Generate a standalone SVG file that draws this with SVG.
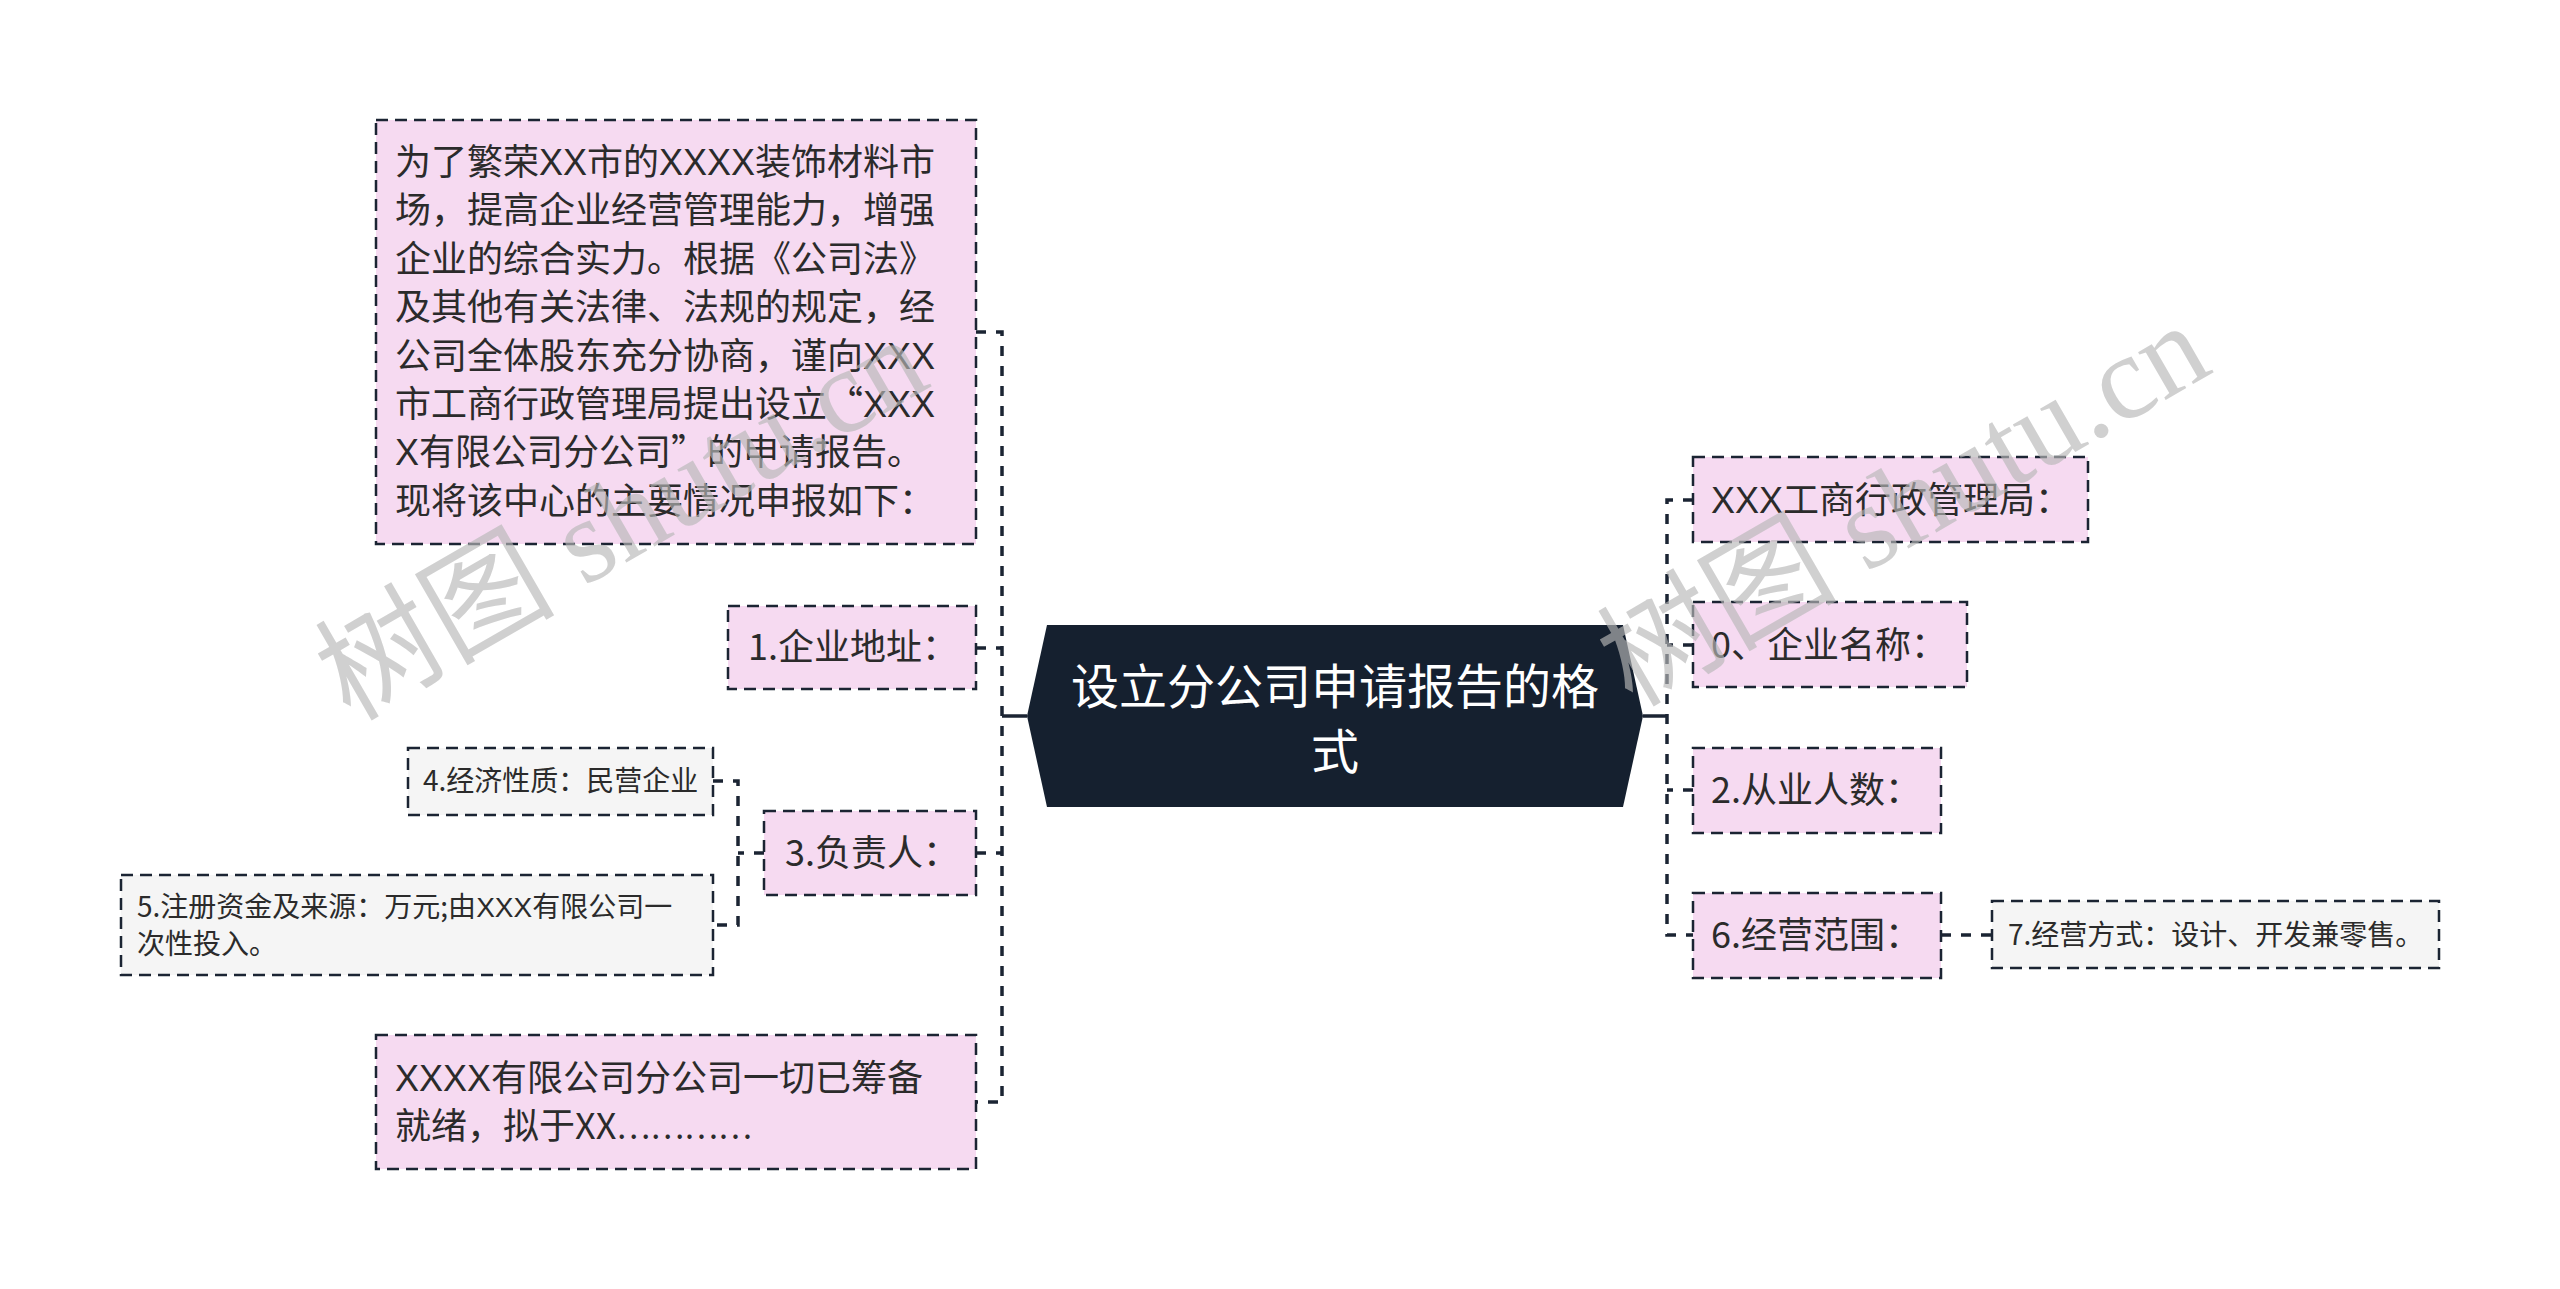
<svg xmlns="http://www.w3.org/2000/svg" width="2560" height="1289" viewBox="0 0 2560 1289">
<style>
.box{stroke:#1b2433;stroke-width:2.5;stroke-dasharray:12 7}
.pink{fill:#f6daf1}
.gray{fill:#f5f5f5}
.t{font-family:"Noto Sans CJK SC","Noto Sans",sans-serif;fill:#2b2b2b}
.lat{font-family:"Liberation Sans","Noto Sans CJK SC",sans-serif}
.t36{font-size:36px}
.t28{font-size:28px}
.conn{fill:none;stroke:#1b2433;stroke-width:3.5;stroke-dasharray:10 10}
.solid{fill:none;stroke:#1b2433;stroke-width:3.5}
.wm{font-family:"Liberation Serif","Noto Sans CJK SC",serif;font-size:120px;fill:#b8b8b8;opacity:0.65}
</style>
<rect width="2560" height="1289" fill="#ffffff"/>
<g id="connectors">
<path class="solid" d="M1027,716 H1002"/>
<path class="conn" d="M976,332 H1002 V1102 H976"/>
<path class="conn" d="M976,648 H1002"/>
<path class="conn" d="M976,853 H1002"/>
<path class="conn" d="M764,853 H738"/>
<path class="conn" d="M713,781 H738 V925 H713"/>
<path class="solid" d="M1643,716 H1667"/>
<path class="conn" d="M1693,500 H1667 V935 H1693"/>
<path class="conn" d="M1693,645 H1667"/>
<path class="conn" d="M1693,790 H1667"/>
<path class="conn" d="M1941,935 H1992"/>
</g>
<g id="center">
<polygon points="1027,716 1047,625 1623,625 1643,716 1623,807 1047,807" fill="#15202f"/>
<text class="t" x="1335" y="704" font-size="48" text-anchor="middle" style="fill:#ffffff">设立分公司申请报告的格</text>
<text class="t" x="1335" y="769" font-size="48" text-anchor="middle" style="fill:#ffffff">式</text>
</g>
<g id="node-intro">
<rect class="box pink" x="376" y="120" width="600" height="424"/>
<text class="t t36" x="395"><tspan x="395" y="175">为了繁荣<tspan class="lat">XX</tspan>市的<tspan class="lat">XXXX</tspan>装饰材料市</tspan><tspan x="395" y="223.4">场，提高企业经营管理能力，增强</tspan><tspan x="395" y="271.8">企业的综合实力。根据《公司法》</tspan><tspan x="395" y="320.2">及其他有关法律、法规的规定，经</tspan><tspan x="395" y="368.6">公司全体股东充分协商，谨向<tspan class="lat">XXX</tspan></tspan><tspan x="395" y="417">市工商行政管理局提出设立“<tspan class="lat">XXX</tspan></tspan><tspan x="395" y="465.4"><tspan class="lat">X</tspan>有限公司分公司”的申请报告。</tspan><tspan x="395" y="513.8">现将该中心的主要情况申报如下：</tspan></text>
</g>
<g id="node-address">
<rect class="box pink" x="728" y="606" width="248" height="83"/>
<text class="t t36" x="748" y="660">1.企业地址：</text>
</g>
<g id="node-person">
<rect class="box pink" x="764" y="811" width="212" height="84"/>
<text class="t t36" x="785" y="866">3.负责人：</text>
</g>
<g id="node-nature">
<rect class="box gray" x="408" y="748" width="305" height="67"/>
<text class="t t28" x="423" y="791">4.经济性质：民营企业</text>
</g>
<g id="node-capital">
<rect class="box gray" x="121" y="875" width="592" height="100"/>
<text class="t t28"><tspan x="137" y="917">5.注册资金及来源：万元;由<tspan class="lat">XXX</tspan>有限公司一</tspan><tspan x="137" y="954">次性投入。</tspan></text>
</g>
<g id="node-ready">
<rect class="box pink" x="376" y="1035" width="600" height="134"/>
<text class="t t36"><tspan x="395" y="1091"><tspan class="lat">XXXX</tspan>有限公司分公司一切已筹备</tspan><tspan x="395" y="1139">就绪，拟于XX<tspan font-size="32">…………</tspan></tspan></text>
</g>
<g id="node-bureau">
<rect class="box pink" x="1693" y="457" width="395" height="85"/>
<text class="t t36" x="1711" y="513"><tspan class="lat">XXX</tspan>工商行政管理局：</text>
</g>
<g id="node-name">
<rect class="box pink" x="1693" y="602" width="274" height="85"/>
<text class="t t36" x="1711" y="658">0、企业名称：</text>
</g>
<g id="node-staff">
<rect class="box pink" x="1693" y="748" width="248" height="85"/>
<text class="t t36" x="1711" y="803">2.从业人数：</text>
</g>
<g id="node-scope">
<rect class="box pink" x="1693" y="893" width="248" height="85"/>
<text class="t t36" x="1711" y="948">6.经营范围：</text>
</g>
<g id="node-mode">
<rect class="box gray" x="1992" y="901" width="447" height="67"/>
<text class="t t28" x="2008" y="945">7.经营方式：设计、开发兼零售。</text>
</g>
<g id="watermarks">
<text class="wm" transform="translate(350,722) rotate(-30)">树图 shutu.cn</text>
<text class="wm" transform="translate(1632,708) rotate(-30)">树图 shutu.cn</text>
</g>
</svg>
